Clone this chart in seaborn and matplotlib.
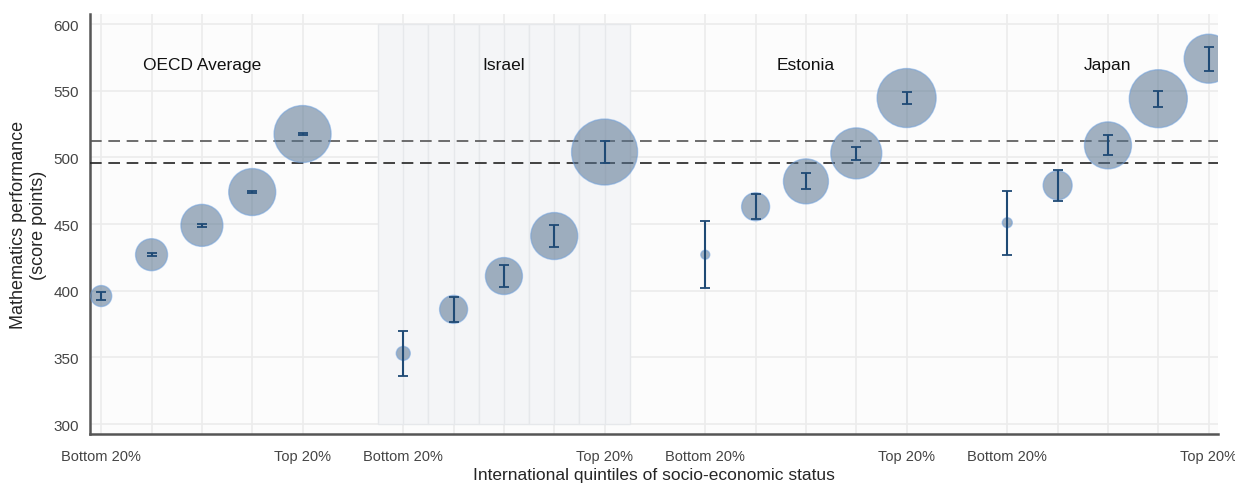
import numpy as np
import pandas as pd
import matplotlib.pyplot as plt
import seaborn as sns
from matplotlib.patches import Rectangle

# Values
countries = ["OECD Average", "Israel", "Estonia", "Japan"]
quintile_labels = ["Bottom 20%", "", "", "", "Top 20%"]

oecd_mean = [396, 427, 449, 474, 517.5]
israel_mean = [353, 386, 411, 441, 504]
estonia_mean = [427, 463, 482, 503, 544.5]
japan_mean = [451, 479, 509, 544, 574]

oecd_err = [3, 1, 1, 1, 1]
israel_err = [17, 9.5, 8, 8, 8]
estonia_err = [25, 9.5, 6, 5, 4.5]
japan_err = [24, 11.5, 7.5, 6, 9]

# bubble diameter (relative)
oecd_bubble = [21, 32, 42, 47, 57]
israel_bubble = [14, 28, 37, 47, 66]
estonia_bubble = [9, 28, 45, 51, 59]
japan_bubble = [10, 29, 47, 58, 49]

oecd_ref = 496
oecd_ref_upper = 512

# Build a long table
means = [oecd_mean, israel_mean, estonia_mean, japan_mean]
errs = [oecd_err, israel_err, estonia_err, japan_err]
bubbles = [oecd_bubble, israel_bubble, estonia_bubble, japan_bubble]
rows = []
for g, country in enumerate(countries):
    for q in range(5):
        rows.append({"country": country, "pos": g * 6 + q, "score": means[g][q],
                     "err": errs[g][q], "area": bubbles[g][q] ** 2})
df = pd.DataFrame(rows)

sns.set_style("white")
plt.rcParams["font.family"] = ["Liberation Sans", "DejaVu Sans"]

fig = plt.figure(figsize=(12.35, 4.85), dpi=100)
ax = fig.add_axes([0.073, 0.103, 0.913, 0.866])
ax.set_facecolor("#fcfcfc")

# grid
for y in range(300, 601, 50):
    ax.axhline(y, color="#ececec", lw=1.2, zorder=0)
for p in df["pos"]:
    ax.axvline(p, color="#ececec", lw=1.2, zorder=0)

# shaded Israel block
for q in range(5):
    ax.add_patch(Rectangle((6 + q - 0.5, 300), 1, 300, facecolor="#f4f5f7",
                           edgecolor="#e6e8eb", lw=1, zorder=0.5))
for q in range(5):
    ax.plot([6 + q, 6 + q], [300, 600], color="#e6e8eb", lw=1, zorder=0.6)

ax.axhline(oecd_ref_upper, color="#555555", lw=1.2, ls=(0, (7, 4)), zorder=3)
ax.axhline(oecd_ref, color="#222222", lw=1.2, ls=(0, (7, 4)), zorder=3)

amax = df["area"].max()
sns.scatterplot(data=df, x="pos", y="score", size="area", sizes=(0, (np.sqrt(amax) * 0.72) ** 2),
                size_norm=(0, amax), color="#56728f", alpha=0.55, edgecolor="#6fa0dc",
                linewidth=1, legend=False, ax=ax, zorder=4)

ax.errorbar(df["pos"], df["score"], yerr=df["err"], fmt="none", ecolor="#1f4a75",
            elinewidth=1.5, capsize=3.5, capthick=1.3, zorder=5)

for g, country in enumerate(countries):
    ax.text(g * 6 + 2, 570, country, ha="center", va="center", fontsize=12.5, color="#111111")

ax.set_xlim(-0.22, 22.18)
ax.set_ylim(292.5, 607.5)
ax.set_yticks(range(300, 601, 50))
ax.set_xticks(df["pos"])
ax.set_xticklabels(quintile_labels * len(countries))
ax.tick_params(axis="both", direction="in", length=6, width=1.2, color="#666666",
               labelcolor="#444444", labelsize=10.5)
ax.tick_params(axis="y", labelsize=11)
ax.tick_params(axis="x", pad=11)
ax.tick_params(axis="y", pad=8)

for side in ["top", "right"]:
    ax.spines[side].set_visible(False)
for side in ["left", "bottom"]:
    ax.spines[side].set_color("#555555")
    ax.spines[side].set_linewidth(1.8)

ax.set_xlabel("International quintiles of socio-economic status", fontsize=12.5, labelpad=3)
ax.set_ylabel("Mathematics performance\n(score points)", fontsize=13, labelpad=5)

fig.savefig("out.png", dpi=100, facecolor="white")
